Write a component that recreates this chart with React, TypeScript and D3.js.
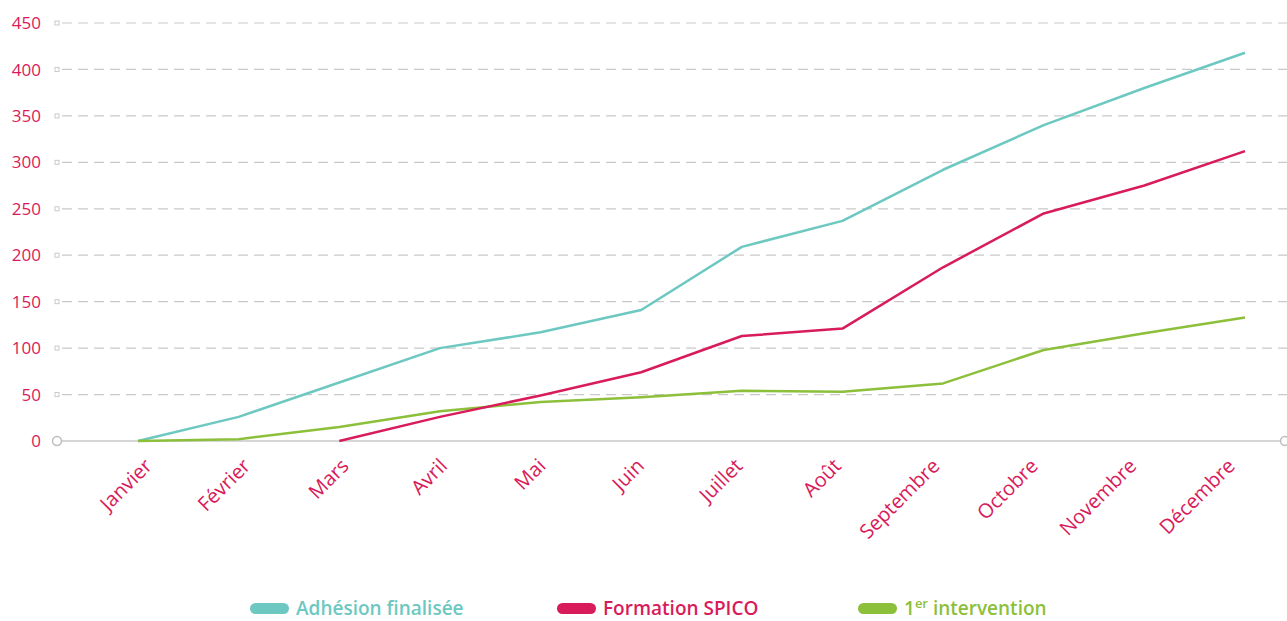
import { useEffect, useRef } from "react";
import * as d3 from "d3";

const MONTHS = ["Janvier", "Février", "Mars", "Avril", "Mai", "Juin", "Juillet", "Août", "Septembre", "Octobre", "Novembre", "Décembre"];

const ADHESION = [0, 26, 63, 100, 117, 141, 209, 237, 292, 340, 380, 418];
const FORMATION: (number | null)[] = [null, null, 0, 26, 49, 74, 113, 121, 187, 245, 275, 312];
const INTERVENTION = [0, 2, 15, 32, 42, 47, 54, 53, 62, 98, 116, 133];

const Y_TICKS = [0, 50, 100, 150, 200, 250, 300, 350, 400, 450];

const TEAL = "#6cc8c0";
const RED = "#d81b5a";
const GREEN = "#8cbf3a";
const FONT = "'Open Sans', sans-serif";

export default function App() {
	const ref = useRef<SVGSVGElement>(null);

	useEffect(() => {
		document.body.style.margin = "0";
		const svg = d3.select(ref.current);
		svg.selectAll("*").remove();

		const left = 57;
		const right = 1285;

		// Scales
		const x = d3.scalePoint<string>()
			.domain(MONTHS)
			.range([138, 1245]);

		// Month labels sit on a slightly tighter spacing than the data points
		const labelX = d3.scalePoint<string>()
			.domain(MONTHS)
			.range([143, 1226]);

		const y = d3.scaleLinear()
			.domain([0, 450])
			.range([441, 23]);

		// Horizontal grid (dashed) with small square markers
		const grid = svg.append("g");
		Y_TICKS.filter(t => t > 0).forEach(t => {
			grid.append("line")
				.attr("x1", left + 5)
				.attr("x2", right + 2)
				.attr("y1", y(t))
				.attr("y2", y(t))
				.attr("stroke", "#c9c9c9")
				.attr("stroke-width", 1.2)
				.attr("stroke-dasharray", "10,6");
			grid.append("rect")
				.attr("x", left - 2)
				.attr("y", y(t) - 2)
				.attr("width", 4)
				.attr("height", 4)
				.attr("fill", "#fff")
				.attr("stroke", "#c9c9c9")
				.attr("stroke-width", 1);
		});

		// Zero axis line with circle ends
		svg.append("line")
			.attr("x1", left)
			.attr("x2", right)
			.attr("y1", y(0))
			.attr("y2", y(0))
			.attr("stroke", "#c9c9c9")
			.attr("stroke-width", 1.5);
		[left, right].forEach(cx => {
			svg.append("circle")
				.attr("cx", cx)
				.attr("cy", y(0))
				.attr("r", 4.5)
				.attr("fill", "#fff")
				.attr("stroke", "#bdbdbd")
				.attr("stroke-width", 1.5);
		});

		// Y tick labels
		svg.append("g")
			.selectAll("text")
			.data(Y_TICKS)
			.enter()
			.append("text")
			.attr("x", 41)
			.attr("y", d => y(d))
			.attr("dy", "0.36em")
			.attr("text-anchor", "end")
			.attr("font-family", FONT)
			.attr("font-size", "17px")
			.attr("fill", RED)
			.text(d => d);

		// X tick labels, rotated
		svg.append("g")
			.selectAll("text")
			.data(MONTHS)
			.enter()
			.append("text")
			.attr("transform", d => `translate(${labelX(d)!},${457}) rotate(-45)`)
			.attr("text-anchor", "end")
			.attr("dy", "0.72em")
			.attr("font-family", FONT)
			.attr("font-size", "20px")
			.attr("fill", RED)
			.text(d => d);

		// Lines
		const line = d3.line<number | null>()
			.defined(d => d !== null)
			.x((_, i) => x(MONTHS[i])!)
			.y(d => y(d as number));

		const series: [(number | null)[], string][] = [
			[ADHESION, TEAL],
			[INTERVENTION, GREEN],
			[FORMATION, RED]
		];

		series.forEach(([values, color]) => {
			svg.append("path")
				.datum(values)
				.attr("d", line)
				.attr("fill", "none")
				.attr("stroke", color)
				.attr("stroke-width", 2.5)
				.attr("stroke-linejoin", "round");
		});

		// Legend
		const legend = [
			{ parts: ["Adhésion finalisée"], color: TEAL, x: 250 },
			{ parts: ["Formation SPICO"], color: RED, x: 557 },
			{ parts: ["1", "er", " intervention"], color: GREEN, x: 858 }
		];

		legend.forEach(item => {
			const g = svg.append("g").attr("transform", `translate(${item.x},607)`);
			g.append("rect")
				.attr("x", 0)
				.attr("y", -4)
				.attr("width", 39)
				.attr("height", 11)
				.attr("rx", 5.5)
				.attr("fill", item.color);

			let cursor = 46;
			item.parts.forEach((part, i) => {
				const sup = i === 1;
				const t = g.append("text")
					.attr("x", cursor)
					.attr("y", sup ? -4 : 0)
					.attr("dy", "0.42em")
					.attr("font-family", FONT)
					.attr("font-size", sup ? "13px" : "19px")
					.attr("font-weight", 600)
					.attr("fill", item.color)
					.attr("xml:space", "preserve")
					.style("white-space", "pre")
					.text(part);
				cursor += (t.node() as SVGTextElement).getComputedTextLength();
			});
		});
	}, []);

	return <svg ref={ref} width={1287} height={621} style={{ display: "block", background: "#fff" }} />;
}
